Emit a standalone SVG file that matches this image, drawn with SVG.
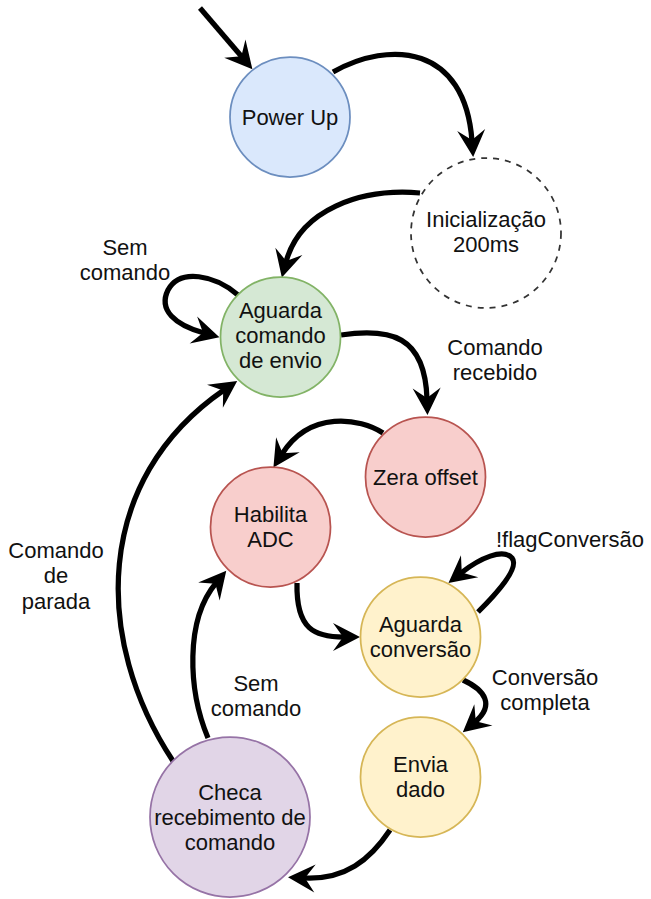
<svg xmlns="http://www.w3.org/2000/svg" width="651" height="899" viewBox="0 0 651 899">
<defs>
<style>
.n{stroke-width:1.75}
.t{font-family:"Liberation Sans",Arial,Helvetica,sans-serif;font-size:22px;fill:#111;text-anchor:middle}
.e{fill:none;stroke:#000;stroke-width:5.25;marker-end:url(#arr)}
</style>
<marker id="arr" markerUnits="userSpaceOnUse" viewBox="-30 -16 32 32" markerWidth="32" markerHeight="32" refX="-16" refY="0" orient="auto">
<path d="M0,0 L-27,-14 L-17,0 L-27,14 Z" fill="#000"/>
</marker>
</defs>
<rect width="651" height="899" fill="#fff"/>
<g id="edges">
<path class="e" d="M200,8 L242,57"/>
<path class="e" d="M333,72 C390,40 465,45 472,141"/>
<path class="e" d="M420,193 C360,188 300,210 286,262"/>
<path class="e" d="M238,295 C215,275 180,268 168,290 C158,310 175,325 204,333"/>
<path class="e" d="M341,335 C390,328 425,335 427,399"/>
<path class="e" d="M383,433 C360,418 310,410 282,454"/>
<path class="e" d="M297,583 C296,630 315,637 344,637"/>
<path class="e" d="M478,612 C495,595 520,568 512,558 C503,548 480,558 461,573"/>
<path class="e" d="M463,680 C485,690 495,705 475,722"/>
<path class="e" d="M390,830 C370,860 345,880 304,878"/>
<path class="e" d="M208,738 C188,690 185,620 216,583"/>
<path class="e" d="M173,761 C93,640 93,480 224,390"/>
</g>
<g id="labels">
<text class="t" x="125" y="255">Sem</text>
<text class="t" x="125" y="280">comando</text>
<text class="t" x="495" y="355">Comando</text>
<text class="t" x="495" y="380">recebido</text>
<text class="t" x="570" y="547">!flagConversão</text>
<text class="t" x="545" y="685">Conversão</text>
<text class="t" x="545" y="710">completa</text>
<text class="t" x="256" y="691">Sem</text>
<text class="t" x="256" y="716">comando</text>
<text class="t" x="56" y="558">Comando</text>
<text class="t" x="56" y="583">de</text>
<text class="t" x="56" y="609">parada</text>
</g>
<g id="power-up">
<circle class="n" cx="290" cy="117" r="60" fill="#dae8fc" stroke="#6c8ebf"/>
<text class="t" x="290" y="125">Power Up</text>
</g>
<g id="inicializacao">
<circle cx="486" cy="233" r="75" fill="#fff" stroke="#333" stroke-width="1.75" stroke-dasharray="6,6"/>
<text class="t" x="486" y="227">Inicialização</text>
<text class="t" x="486" y="252">200ms</text>
</g>
<g id="aguarda-comando">
<circle class="n" cx="280.5" cy="337" r="60" fill="#d5e8d4" stroke="#82b366"/>
<text class="t" x="280.5" y="318">Aguarda</text>
<text class="t" x="280.5" y="343">comando</text>
<text class="t" x="280.5" y="368">de envio</text>
</g>
<g id="zera-offset">
<circle class="n" cx="425.5" cy="477" r="60" fill="#f8cecc" stroke="#b85450"/>
<text class="t" x="425.5" y="485">Zera offset</text>
</g>
<g id="habilita-adc">
<circle class="n" cx="270.5" cy="527" r="60" fill="#f8cecc" stroke="#b85450"/>
<text class="t" x="270.5" y="522">Habilita</text>
<text class="t" x="270.5" y="547">ADC</text>
</g>
<g id="aguarda-conversao">
<circle class="n" cx="420.5" cy="637" r="60" fill="#fff2cc" stroke="#d6b656"/>
<text class="t" x="420.5" y="632">Aguarda</text>
<text class="t" x="420.5" y="657">conversão</text>
</g>
<g id="envia-dado">
<circle class="n" cx="420.5" cy="777" r="60" fill="#fff2cc" stroke="#d6b656"/>
<text class="t" x="420.5" y="772">Envia</text>
<text class="t" x="420.5" y="797">dado</text>
</g>
<g id="checa">
<circle class="n" cx="230" cy="817" r="80" fill="#e1d5e7" stroke="#9673a6"/>
<text class="t" x="230" y="800">Checa</text>
<text class="t" x="230" y="825">recebimento de</text>
<text class="t" x="230" y="850">comando</text>
</g>
</svg>
